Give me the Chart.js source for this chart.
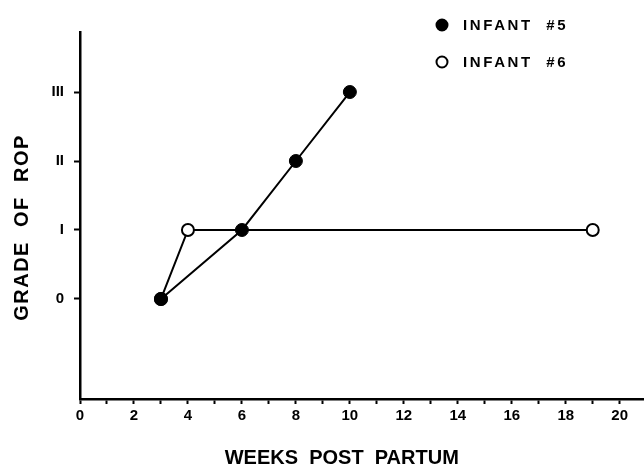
<!DOCTYPE html>
<html>
<head>
<meta charset="utf-8">
<script src="https://cdn.jsdelivr.net/npm/chart.js@4.4.1/dist/chart.umd.min.js"></script>
<style>
  html, body { margin: 0; padding: 0; background: #fff; overflow: hidden; }
  #wrap { width: 644px; height: 466px; }
  canvas { display: block; }
</style>
</head>
<body>
<div id="wrap"><canvas id="ropchart"></canvas></div>
<script>
const weeks5 = [3, 6, 8, 10];
const grade5 = [0, 1, 2, 3];
const weeks6 = [3, 4, 19];
const grade6 = [0, 1, 1];
const gradeLabels = ["0", "I", "II", "III"];
const seriesNames = ["INFANT  #5", "INFANT  #6"];

const FONT = "'Liberation Sans', Arial, sans-serif";

// legend drawn by hand: two stacked rows up in the top right
const legendPlugin = {
  id: "stackLegend",
  afterDraw(chart) {
    const ctx = chart.ctx;
    ctx.save();
    ctx.font = "bold 15px " + FONT;
    ctx.letterSpacing = "2.6px";
    ctx.textBaseline = "middle";
    chart.data.datasets.forEach((ds, i) => {
      const y = 25 + i * 37;
      ctx.beginPath();
      ctx.arc(442, y, 5.5, 0, Math.PI * 2);
      ctx.fillStyle = ds.pointBackgroundColor;
      ctx.fill();
      ctx.lineWidth = 2;
      ctx.strokeStyle = "#000";
      ctx.stroke();
      ctx.fillStyle = "#000";
      ctx.fillText(ds.label, 463, y + 1);
    });
    ctx.restore();
  }
};

// axis titles: wide spaced bold caps, x title a bit left of centre
const titlesPlugin = {
  id: "axisTitles",
  afterDraw(chart) {
    const ctx = chart.ctx;
    const a = chart.chartArea;
    ctx.save();
    ctx.fillStyle = "#000";
    ctx.textAlign = "center";
    ctx.textBaseline = "middle";
    ctx.font = "bold 20px " + FONT;
    ctx.fillText("WEEKS  POST  PARTUM", chart.scales.x.getPixelForValue(9.7), 458);
    ctx.letterSpacing = "1.5px";
    ctx.translate(22, (a.top + a.bottom) / 2 + 12);
    ctx.rotate(-Math.PI / 2);
    ctx.fillText("GRADE  OF  ROP", 0, 0);
    ctx.restore();
  }
};

new Chart(document.getElementById("ropchart").getContext("2d"), {
  type: "line",
  data: {
    datasets: [
      {
        label: seriesNames[0],
        data: weeks5.map((w, i) => ({ x: w, y: grade5[i] })),
        borderColor: "#000",
        borderWidth: 2,
        pointRadius: 6.5,
        pointBackgroundColor: "#000",
        pointBorderColor: "#000",
        pointBorderWidth: 1,
        tension: 0
      },
      {
        label: seriesNames[1],
        data: weeks6.map((w, i) => ({ x: w, y: grade6[i] })),
        borderColor: "#000",
        borderWidth: 2,
        pointRadius: 6,
        pointBackgroundColor: "#fff",
        pointBorderColor: "#000",
        pointBorderWidth: 2,
        tension: 0
      }
    ]
  },
  options: {
    responsive: true,
    maintainAspectRatio: false,
    animation: false,
    layout: { autoPadding: false, padding: { top: 32, right: 0, left: 0, bottom: 0 } },
    plugins: {
      legend: { display: false },
      tooltip: { enabled: false }
    },
    scales: {
      x: {
        type: "linear",
        min: 0,
        max: 20.9,
        afterBuildTicks: (axis) => {
          axis.ticks = [];
          for (let v = 0; v <= 20; v++) axis.ticks.push({ value: v });
        },
        afterFit: (axis) => {
          axis.height = 67;
          axis.paddingRight = 0;
        },
        ticks: {
          autoSkip: false,
          maxRotation: 0,
          color: "#000",
          padding: 3,
          font: { family: FONT, size: 15, weight: "bold" },
          callback: (v) => (v % 2 === 0 ? String(v) : "")
        },
        grid: {
          drawOnChartArea: false,
          drawTicks: true,
          tickLength: 5,
          tickWidth: 2,
          color: "#000"
        },
        border: { display: true, color: "#000", width: 2.5 }
      },
      y: {
        type: "linear",
        min: -1.45,
        max: 3.87,
        afterBuildTicks: (axis) => {
          axis.ticks = gradeLabels.map((_, i) => ({ value: i }));
        },
        afterFit: (axis) => { axis.width = 80; },
        ticks: {
          autoSkip: false,
          color: "#000",
          padding: 10,
          font: { family: FONT, size: 15, weight: "bold" },
          callback: (v) => gradeLabels[v]
        },
        grid: {
          drawOnChartArea: false,
          drawTicks: true,
          tickLength: 6,
          tickWidth: 2,
          color: "#000"
        },
        border: { display: true, color: "#000", width: 2.5 }
      }
    }
  },
  plugins: [legendPlugin, titlesPlugin]
});
</script>
</body>
</html>
